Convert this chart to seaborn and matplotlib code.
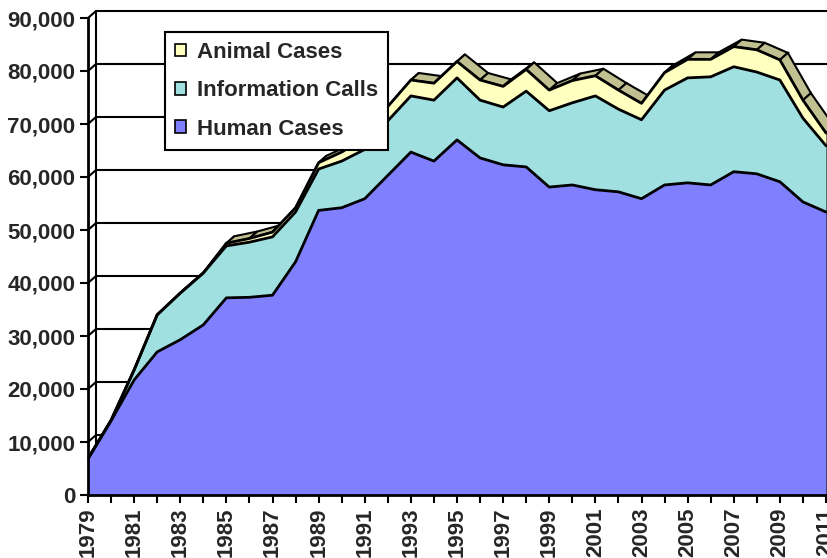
import numpy as np
import pandas as pd
import matplotlib
matplotlib.use("Agg")
import matplotlib.pyplot as plt
from matplotlib.patches import Polygon, Patch
from matplotlib.ticker import FuncFormatter
import seaborn as sns

# Values (stacked 3-D area, one row per year)
years = list(range(1979, 2012))
human_cases = [6800, 14000, 21700, 27000, 29300, 32100, 37200, 37300, 37700, 44000,
               53700, 54200, 55900, 60300, 64700, 63000, 67000, 63600, 62300, 61900,
               58100, 58500, 57600, 57200, 55900, 58500, 58900, 58500, 61000, 60600,
               59100, 55300, 53400]
info_calls = [100, 100, 1900, 7000, 8800, 9800, 9800, 10400, 11000, 9400,
              7800, 8800, 9300, 10300, 10600, 11500, 11700, 10900, 10900, 14300,
              14400, 15500, 17700, 15600, 14900, 17900, 19800, 20400, 19800, 19200,
              19200, 15800, 12500]
animal_cases = [0, 0, 0, 0, 0, 0, 500, 700, 900, 800,
                1200, 1700, 2200, 2700, 3000, 3200, 3100, 3800, 3900, 4100,
                3900, 4200, 3800, 3600, 3100, 3300, 3500, 3300, 3800, 4200,
                3800, 3400, 2400]
series_names = ["Human Cases", "Information Calls", "Animal Cases"]
y_ticks = list(range(0, 90001, 10000))

colors = ["#8080FF", "#A0E0E0", "#FFFFC0"]
side_colors = ["#404090", "#508080", "#A0A070"]
top_color = "#C0C090"

sns.set_style("white")
plt.rcParams["font.family"] = ["Liberation Sans", "DejaVu Sans"]
plt.rcParams["font.weight"] = "bold"

fig = plt.figure(figsize=(8.28, 5.58), dpi=100)
ax = fig.add_axes([88 / 828, 63 / 558, 740 / 828, 477 / 558])

px_year = (826 - 88) / 32
x_hi = 1979 + 740 / px_year
ax.set_xlim(1979, x_hi)
ax.set_ylim(0, 90000)

# depth offset of the 3-D effect, in data units
DX = 8 / px_year
DY = 7 * 90000 / 477

x = np.array(years, dtype=float)
layers = np.array([human_cases, info_calls, animal_cases], dtype=float)
tops = np.cumsum(layers, axis=0)
total = tops[-1]

# back wall: gridlines and left edge
for v in y_ticks[1:]:
    ax.plot([1979, 1979 + DX, x_hi + DX], [v, v + DY, v + DY],
            color="black", lw=1.5, zorder=1, clip_on=False)
ax.plot([1979 + DX, 1979 + DX], [DY, 90000 + DY], color="black", lw=1.5,
        zorder=1, clip_on=False)

# top face of the stack
for i in range(len(x) - 1):
    pts = [(x[i], total[i]), (x[i + 1], total[i + 1]),
           (x[i + 1] + DX, total[i + 1] + DY), (x[i] + DX, total[i] + DY)]
    ax.add_patch(Polygon(pts, closed=True, facecolor=top_color, edgecolor="black",
                         lw=1.5, zorder=2, clip_on=False))

# right side face at the last year
lo = 0.0
for k in range(3):
    hi = tops[k][-1]
    pts = [(x[-1], lo), (x[-1], hi), (x[-1] + DX, hi + DY), (x[-1] + DX, lo + DY)]
    ax.add_patch(Polygon(pts, closed=True, facecolor=side_colors[k], edgecolor="black",
                         lw=1.5, zorder=2, clip_on=False))
    lo = hi

# front faces
ax.stackplot(x, layers, colors=colors, zorder=3, lw=0)

edges = pd.DataFrame({
    "year": np.tile(x, 3),
    "value": tops.ravel(),
    "layer": np.repeat(series_names, len(x)),
})
sns.lineplot(data=edges, x="year", y="value", units="layer", estimator=None,
             color="black", lw=2, ax=ax, zorder=4, legend=False)

ax.set_xlabel("")
ax.set_ylabel("")
for s in ["top", "right"]:
    ax.spines[s].set_visible(False)
for s in ["left", "bottom"]:
    ax.spines[s].set_color("black")
    ax.spines[s].set_linewidth(2)
    ax.spines[s].set_zorder(5)

ax.set_yticks(y_ticks)
ax.yaxis.set_major_formatter(FuncFormatter(lambda v, p: f"{int(v):,}"))
ax.set_xticks(years)
ax.set_xticklabels([str(y) if (y - 1979) % 2 == 0 else "" for y in years],
                   rotation=90)
ax.tick_params(axis="both", direction="out", length=6, width=1.5, color="black",
               labelsize=16, pad=3, left=True, bottom=True)
for lab in ax.get_xticklabels() + ax.get_yticklabels():
    lab.set_fontweight("bold")

handles = [Patch(facecolor=colors[k], edgecolor="black", lw=1.2, label=series_names[k])
           for k in [2, 1, 0]]
leg = ax.legend(handles=handles, loc="upper left",
                bbox_to_anchor=((165 - 88) / 740, (495 - 32) / 477),
                borderaxespad=0, fancybox=False, framealpha=1, edgecolor="black",
                prop={"size": 16, "weight": "bold"}, handlelength=0.5,
                handleheight=0.5, handletextpad=0.5, labelspacing=0.78,
                borderpad=0.45)
leg.get_frame().set_linewidth(1.5)
leg.set_zorder(6)

fig.savefig("out.png", dpi=100)
